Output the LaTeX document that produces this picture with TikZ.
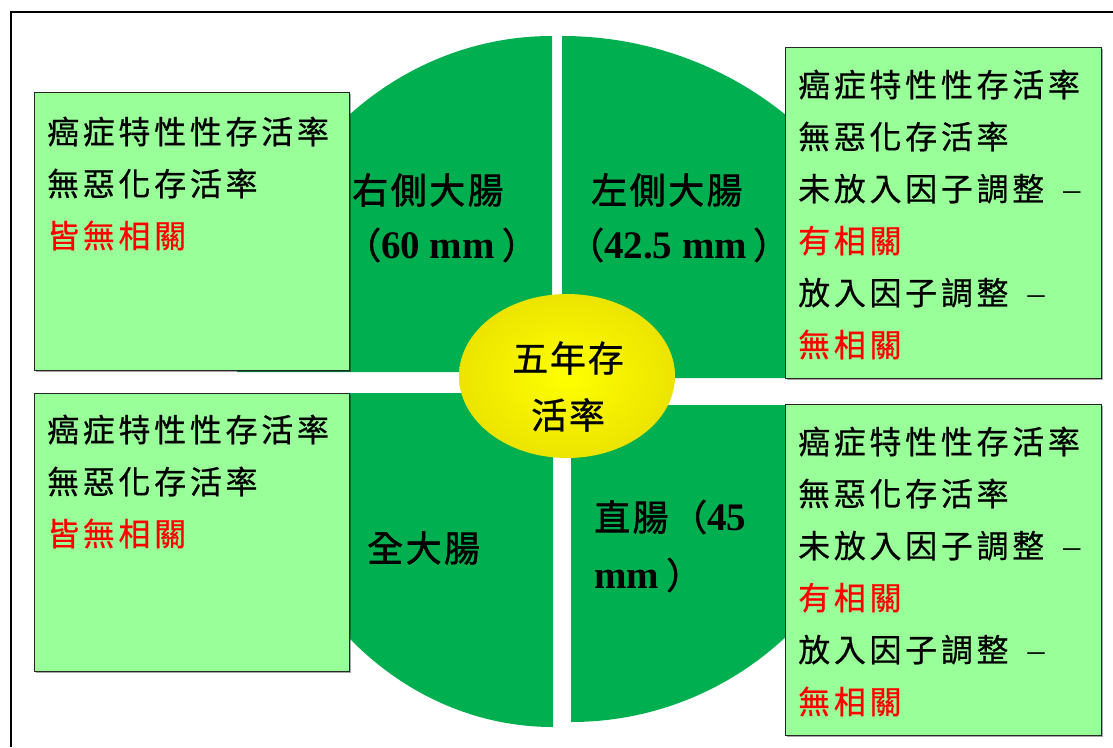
\documentclass[tikz,border=0pt]{standalone}
\usepackage{fontspec}
\setmainfont{Liberation Serif}
\newfontfamily\cjk{Noto Sans CJK TC}[LetterSpace=11.5, FakeBold=0.6]
\newfontfamily\cjkl{Noto Sans CJK TC}[LetterSpace=7, FakeBold=1.6]
\newfontfamily\cjkc{Noto Sans CJK TC}[LetterSpace=5, FakeBold=0.8]
\newfontfamily\tms{Liberation Serif}
\usetikzlibrary{shapes.geometric,shadows}
\definecolor{qgreen}{RGB}{0,176,80}
\definecolor{boxfill}{RGB}{153,255,153}
\definecolor{hot}{RGB}{255,0,0}
\definecolor{yedge}{RGB}{236,228,0}
\tikzset{
  quad/.style={fill=qgreen},
  infobox/.style={draw=black!85, line width=1.2pt, fill=boxfill, anchor=north west, inner sep=0pt,
    drop shadow={shadow xshift=1.5pt, shadow yshift=-1.5pt, fill=black, opacity=0.35}},
  boxtext/.style={anchor=west, align=left, inner sep=0pt, font={\fontsize{32pt}{52pt}\cjk}},
  lab/.style={anchor=west, inner sep=0pt, font={\fontsize{36pt}{40pt}\cjkl}},
}
\newcommand{\nm}[1]{{\fontsize{39pt}{40pt}\tms\bfseries #1}}
\newcommand{\dsh}{\hspace{19pt}{\fontsize{34pt}{40pt}\tms –}}
\begin{document}
\begin{tikzpicture}[x=1pt,y=-1pt]
\useasboundingbox (0,0) rectangle (1113,747);
\fill[white] (0,0) rectangle (1113,747);
% frame
\draw[line width=2pt] (11,747) -- (11,12) -- (1113,12);
% quadrants
\fill[quad] (552,372) -- (237,372) arc[start angle=180, end angle=90, x radius=315pt, y radius=336pt] -- cycle;
\fill[quad] (562,378) -- (562,36) arc[start angle=90, end angle=0, x radius=350pt, y radius=342pt] -- cycle;
\fill[quad] (553,393) -- (253,393) arc[start angle=180, end angle=270, x radius=300pt, y radius=334pt] -- cycle;
\fill[quad] (571,405) -- (571,722) arc[start angle=270, end angle=360, x radius=315pt, y radius=317pt] -- cycle;
% boxes
\node[infobox, minimum width=315pt, minimum height=278pt] (tlbox) at (34,92) {};
\node[infobox, minimum width=315pt, minimum height=278pt] (blbox) at (34,393) {};
\node[infobox, minimum width=316pt, minimum height=331pt] (trbox) at (785,47) {};
\node[infobox, minimum width=316pt, minimum height=331pt] (brbox) at (785,404) {};
% box texts
\node[boxtext] (tltext) at (47,183.5) {癌症特性性存活率\\無惡化存活率\\\textcolor{hot}{皆無相關}};
\node[boxtext] (bltext) at (47,481.5) {癌症特性性存活率\\無惡化存活率\\\textcolor{hot}{皆無相關}};
\node[boxtext] (trtext) at (798,214.5) {癌症特性性存活率\\無惡化存活率\\未放入因子調整\dsh\\\textcolor{hot}{有相關}\\放入因子調整\dsh\\\textcolor{hot}{無相關}};
\node[boxtext] (brtext) at (798,571.5) {癌症特性性存活率\\無惡化存活率\\未放入因子調整\dsh\\\textcolor{hot}{有相關}\\放入因子調整\dsh\\\textcolor{hot}{無相關}};
% quadrant labels
\node[lab] (rs1) at (352,190) {右側大腸};
\node[lab] (rs2) at (345,245) {（\nm{60 mm}\hspace{7pt}）};
\node[lab] (ls1) at (591,190) {左側大腸};
\node[lab] (ls2) at (568,245) {（\nm{42.5 mm}\hspace{6pt}）};
\node[lab] (al1) at (367,548) {全大腸};
\node[lab] (re1) at (594,517) {直腸（\nm{45}};
\node[lab] (re2) at (594,575) {\nm{mm}\hspace{7pt}）};
% centre
\node[ellipse, minimum width=216pt, minimum height=164pt, inner color=yellow, outer color=yedge] (core) at (567,376) {};
\node[align=center, inner sep=0pt, font={\fontsize{36pt}{57pt}\cjkc}] (coretext) at (568,386.5) {五年存\\活率};
\end{tikzpicture}
\end{document}
